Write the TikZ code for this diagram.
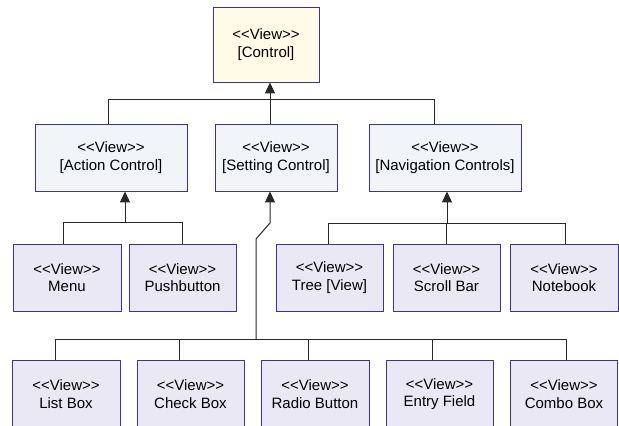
\documentclass[tikz,border=0pt]{standalone}
\usepackage{fontspec}
\setmainfont{Liberation Sans}
\usetikzlibrary{arrows.meta}
\definecolor{bordc}{RGB}{62,50,148}
\definecolor{topfill}{RGB}{255,251,230}
\definecolor{midfill}{RGB}{241,245,248}
\definecolor{lowfill}{RGB}{234,232,245}
\definecolor{linec}{RGB}{40,40,40}
\newcommand{\vw}{<{}<View>{}>}
\tikzset{
  viewbox/.style={draw=bordc, line width=0.9pt, align=center, inner sep=0pt,
    font=\fontsize{15}{17.5}\selectfont},
  topbox/.style={viewbox, fill=topfill, minimum width=106pt, minimum height=75pt},
  midbox/.style={viewbox, fill=midfill, minimum height=67pt},
  lowbox/.style={viewbox, fill=lowfill, minimum width=107pt, minimum height=67pt},
  botbox/.style={viewbox, fill=lowfill, minimum width=107pt, minimum height=68pt},
  conn/.style={draw=linec, line width=1pt},
  arr/.style={conn, -{Triangle[width=10pt,length=11pt]}},
}
\begin{document}
\begin{tikzpicture}[x=1pt,y=-1pt]
\useasboundingbox[fill=white] (0,0) rectangle (619,426);
% level 1
\node[topbox] (ctrl) at (266,44.5) {\vw\\{}[Control]};
% level 2
\node[midbox, minimum width=152pt] (act) at (111,157.5) {\vw\\{}[Action Control]};
\node[midbox, minimum width=122pt] (set) at (276,157.5) {\vw\\{}[Setting Control]};
\node[midbox, minimum width=152pt] (nav) at (445,157.5) {\vw\\{}[Navigation Controls]};
% level 3
\node[lowbox, minimum width=108pt] (menu) at (67,277.5) {\vw\\Menu};
\node[lowbox] (push) at (182.5,277.5) {\vw\\Pushbutton};
\node[lowbox] (tree) at (329.5,277.5) {\vw\\Tree [View]};
\node[lowbox] (scroll) at (446.5,277.5) {\vw\\Scroll Bar};
\node[lowbox, minimum width=108pt] (note) at (564,277.5) {\vw\\Notebook};
% level 4
\node[botbox, minimum width=108pt] (list) at (66,394) {\vw\\List Box};
\node[botbox] (check) at (190.5,394) {\vw\\Check Box};
\node[botbox, minimum width=108pt] (radio) at (315,394) {\vw\\Radio Button};
\node[botbox] (entry) at (439.5,394) {\vw\\Entry Field};
\node[botbox] (combo) at (564,394) {\vw\\Combo Box};

% top bus
\coordinate (bus1) at (270,99);
\draw[conn] ([xshift=-3pt]act.north) |- ([xshift=-11pt]nav.north |- bus1) -- ([xshift=-11pt]nav.north);
\draw[conn] (set.north -| bus1) -- (bus1);
\draw[arr] (bus1) -- (ctrl.south -| bus1);

% action bus
\coordinate (bus2) at (125,222);
\draw[conn] ([xshift=-4pt]menu.north) |- (push.north |- bus2) -- (push.north);
\draw[arr] (bus2) -- (act.south -| bus2);

% navigation bus
\coordinate (bus3) at (447,223);
\draw[conn] ([xshift=-1.5pt]tree.north) |- ([xshift=1pt]note.north |- bus3) -- ([xshift=1pt]note.north);
\draw[conn] ([xshift=-0.5pt]scroll.north) -- ([xshift=-0.5pt]scroll.north |- bus3);
\draw[arr] (bus3) -- (nav.south -| bus3);

% setting bus
\coordinate (trunk) at (256,339);
\coordinate (bendA) at (256,239);
\coordinate (bendB) at (270,223);
\coordinate (dA) at (55,339);
\coordinate (dB) at (179,339);
\coordinate (dC) at (308,339);
\coordinate (dD) at (432,339);
\coordinate (dE) at (566,339);
\draw[conn] (dA |- list.north) -- (dA) -- (dE) -- (dE |- combo.north);
\draw[conn] (dB) -- (dB |- check.north);
\draw[conn] (dC) -- (dC |- radio.north);
\draw[conn] (dD) -- (dD |- entry.north);
\draw[arr] (trunk) -- (bendA) -- (bendB) -- (set.south -| bendB);
\end{tikzpicture}
\end{document}
